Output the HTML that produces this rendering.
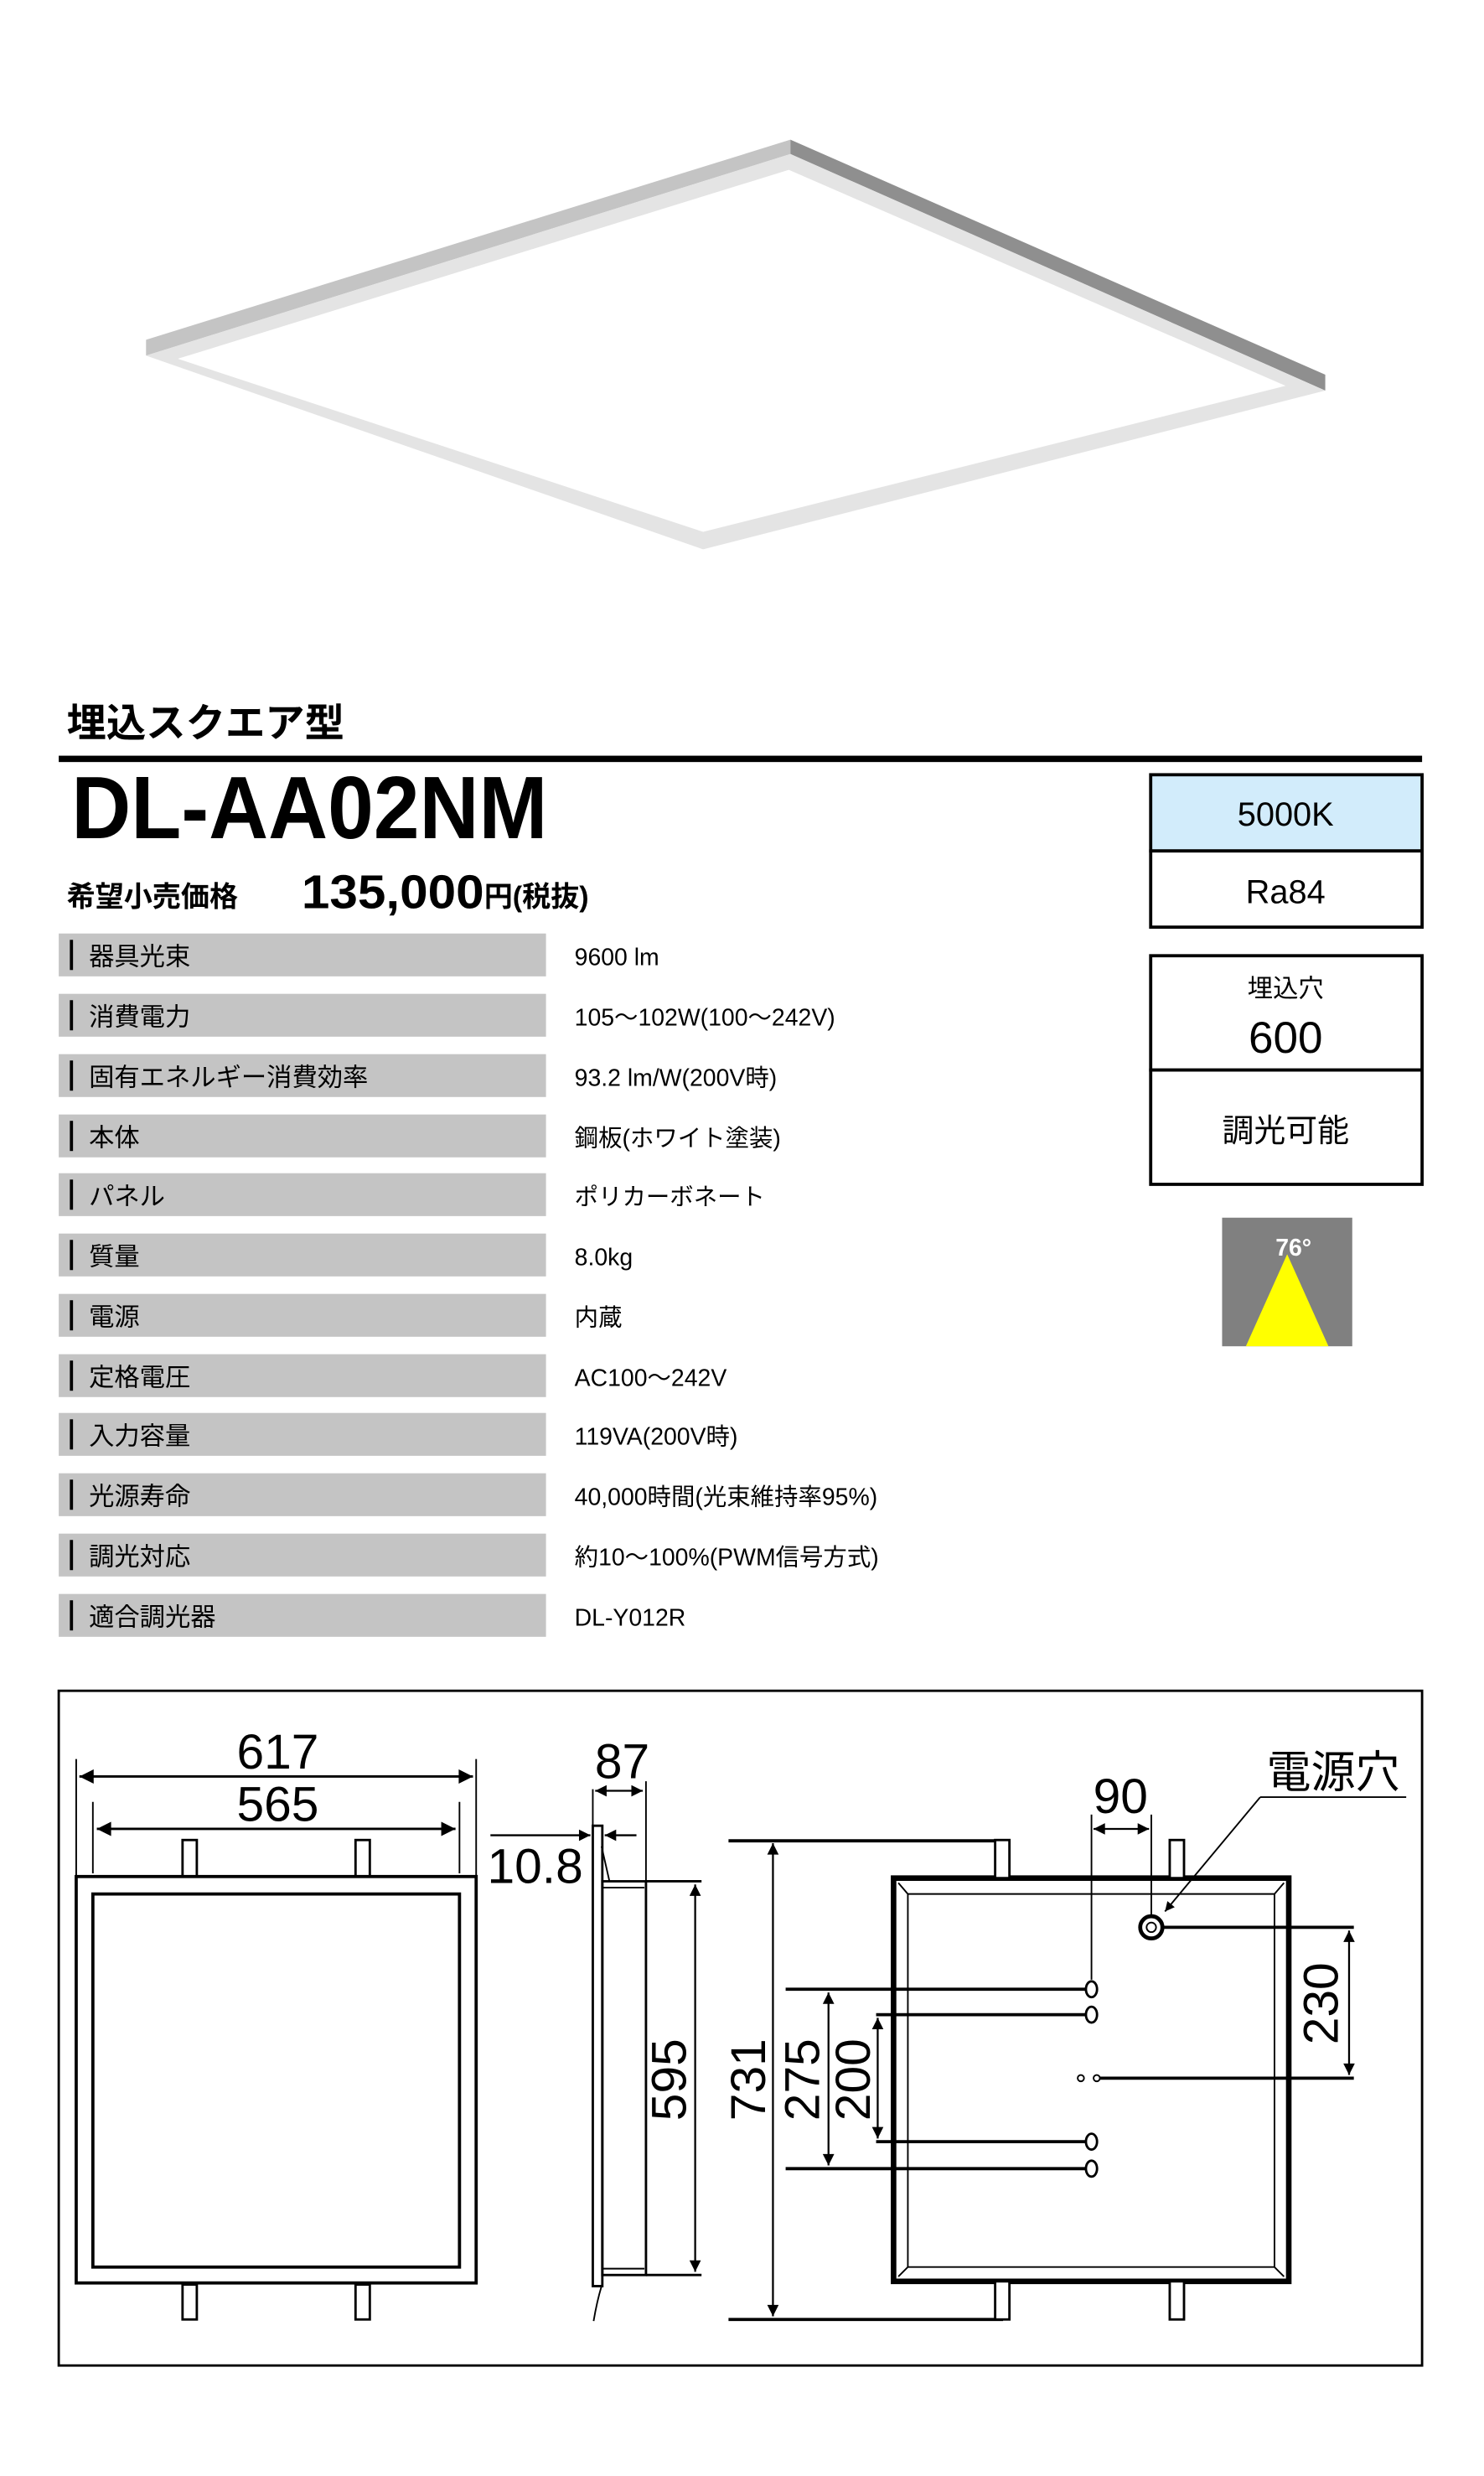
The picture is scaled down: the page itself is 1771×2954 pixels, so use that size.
<!DOCTYPE html>
<html><head><meta charset="utf-8"><style>
html,body{margin:0;padding:0;background:#fff}
svg{display:block}
text{font-family:"Liberation Sans","Noto Sans CJK JP",sans-serif}
</style></head><body>
<svg width="1771" height="2954" viewBox="0 0 935 1559.6" xmlns="http://www.w3.org/2000/svg">
<rect width="935" height="1560" fill="#fff"/>
<!-- lamp -->
<polygon points="92,214 498,88 498,97 92,224" fill="#c4c4c4"/>
<polygon points="498,88 835,236 835,246 498,97" fill="#8f8f8f"/>
<polygon points="92,224 498,97 835,246 443,346" fill="#e4e4e4"/>
<polygon points="112,226 497,107 810,243 443,335" fill="#fff"/>
<!-- title -->
<text x="42" y="464" font-size="25" font-weight="bold">埋込スクエア型</text>
<rect x="37" y="476" width="859" height="4" fill="#000"/>
<text x="45" y="528" font-size="56" font-weight="bold" textLength="300" lengthAdjust="spacingAndGlyphs">DL-AA02NM</text>
<text x="42" y="571" font-size="18" font-weight="bold">希望小売価格</text>
<text x="190" y="572" font-size="30" font-weight="bold" textLength="115" lengthAdjust="spacingAndGlyphs">135,000</text>
<text x="305" y="571" font-size="18" font-weight="bold">円(税抜)</text>
<!-- right boxes -->
<rect x="725" y="488" width="171" height="48" fill="#d2ecfb" stroke="#000" stroke-width="2"/>
<rect x="725" y="536" width="171" height="48" fill="#fff" stroke="#000" stroke-width="2"/>
<text x="810" y="520" font-size="21" text-anchor="middle">5000K</text>
<text x="810" y="569" font-size="21" text-anchor="middle">Ra84</text>
<rect x="725" y="602" width="171" height="72" fill="#fff" stroke="#000" stroke-width="2"/>
<rect x="725" y="674" width="171" height="72" fill="#fff" stroke="#000" stroke-width="2"/>
<text x="810" y="628" font-size="16" text-anchor="middle">埋込穴</text>
<text x="810" y="663" font-size="28" text-anchor="middle">600</text>
<text x="810" y="719" font-size="20" text-anchor="middle">調光可能</text>
<rect x="770" y="767" width="82" height="81" fill="#808080"/>
<polygon points="811,790 785,848 837,848" fill="#ffff00"/>
<text x="815" y="791" font-size="15" font-weight="bold" fill="#fff" text-anchor="middle">76°</text>
<!-- table -->
<g font-size="16">
<rect x="37" y="588" width="307" height="27" fill="#c4c4c4"/><rect x="44" y="592" width="2" height="19" fill="#000"/><text x="56" y="608">器具光束</text><text x="362" y="608" font-size="15">9600 lm</text>
<rect x="37" y="626" width="307" height="27" fill="#c4c4c4"/><rect x="44" y="630" width="2" height="19" fill="#000"/><text x="56" y="646">消費電力</text><text x="362" y="646" font-size="15">105～102W(100～242V)</text>
<rect x="37" y="664" width="307" height="27" fill="#c4c4c4"/><rect x="44" y="668" width="2" height="19" fill="#000"/><text x="56" y="684">固有エネルギー消費効率</text><text x="362" y="684" font-size="15">93.2 lm/W(200V時)</text>
<rect x="37" y="702" width="307" height="27" fill="#c4c4c4"/><rect x="44" y="706" width="2" height="19" fill="#000"/><text x="56" y="722">本体</text><text x="362" y="722" font-size="15">鋼板(ホワイト塗装)</text>
<rect x="37" y="739" width="307" height="27" fill="#c4c4c4"/><rect x="44" y="743" width="2" height="19" fill="#000"/><text x="56" y="759">パネル</text><text x="362" y="759" font-size="15">ポリカーボネート</text>
<rect x="37" y="777" width="307" height="27" fill="#c4c4c4"/><rect x="44" y="781" width="2" height="19" fill="#000"/><text x="56" y="797">質量</text><text x="362" y="797" font-size="15">8.0kg</text>
<rect x="37" y="815" width="307" height="27" fill="#c4c4c4"/><rect x="44" y="819" width="2" height="19" fill="#000"/><text x="56" y="835">電源</text><text x="362" y="835" font-size="15">内蔵</text>
<rect x="37" y="853" width="307" height="27" fill="#c4c4c4"/><rect x="44" y="857" width="2" height="19" fill="#000"/><text x="56" y="873">定格電圧</text><text x="362" y="873" font-size="15">AC100～242V</text>
<rect x="37" y="890" width="307" height="27" fill="#c4c4c4"/><rect x="44" y="894" width="2" height="19" fill="#000"/><text x="56" y="910">入力容量</text><text x="362" y="910" font-size="15">119VA(200V時)</text>
<rect x="37" y="928" width="307" height="27" fill="#c4c4c4"/><rect x="44" y="932" width="2" height="19" fill="#000"/><text x="56" y="948">光源寿命</text><text x="362" y="948" font-size="15">40,000時間(光束維持率95%)</text>
<rect x="37" y="966" width="307" height="27" fill="#c4c4c4"/><rect x="44" y="970" width="2" height="19" fill="#000"/><text x="56" y="986">調光対応</text><text x="362" y="986" font-size="15">約10～100%(PWM信号方式)</text>
<rect x="37" y="1004" width="307" height="27" fill="#c4c4c4"/><rect x="44" y="1008" width="2" height="19" fill="#000"/><text x="56" y="1024">適合調光器</text><text x="362" y="1024" font-size="15">DL-Y012R</text>
</g>
<!-- drawing box -->
<rect x="37" y="1065" width="859" height="425" fill="none" stroke="#000" stroke-width="1.5"/>
<defs><marker id="a" viewBox="0 0 10 10" refX="10" refY="5" markerWidth="8" markerHeight="6" orient="auto-start-reverse"><path d="M0,0 L10,5 L0,10 z" fill="#000"/></marker></defs>
<g stroke="#000" fill="none">
<!-- front view -->
<rect x="48" y="1182" width="252" height="256" stroke-width="2"/>
<rect x="58.5" y="1193" width="231" height="235" stroke-width="2"/>
<rect x="115" y="1159" width="9" height="23" stroke-width="1.5"/><rect x="224" y="1159" width="9" height="23" stroke-width="1.5"/>
<rect x="115" y="1439" width="9" height="22" stroke-width="1.5"/><rect x="224" y="1439" width="9" height="22" stroke-width="1.5"/>
<line x1="48" y1="1108" x2="48" y2="1182" stroke-width="1"/><line x1="300" y1="1108" x2="300" y2="1182" stroke-width="1"/>
<line x1="58.5" y1="1135" x2="58.5" y2="1180" stroke-width="1"/><line x1="289.5" y1="1135" x2="289.5" y2="1180" stroke-width="1"/>
<line x1="50" y1="1119" x2="298" y2="1119" stroke-width="1.5" marker-start="url(#a)" marker-end="url(#a)"/>
<line x1="61" y1="1152" x2="287" y2="1152" stroke-width="1.5" marker-start="url(#a)" marker-end="url(#a)"/>
<!-- side view -->
<rect x="373.5" y="1150" width="6" height="290" stroke-width="1.5"/>
<rect x="379.5" y="1185" width="27.5" height="248" stroke-width="1.5"/>
<line x1="380" y1="1189" x2="406" y2="1189" stroke-width="1"/><line x1="380" y1="1429" x2="406" y2="1429" stroke-width="1"/>
<line x1="373.5" y1="1127" x2="373.5" y2="1150" stroke-width="1"/><line x1="407" y1="1122" x2="407" y2="1185" stroke-width="1"/>
<line x1="375" y1="1128" x2="405" y2="1128" stroke-width="1.2" marker-start="url(#a)" marker-end="url(#a)"/>
<line x1="309" y1="1156" x2="372" y2="1156" stroke-width="1.2" marker-end="url(#a)"/>
<line x1="401" y1="1156" x2="381" y2="1156" stroke-width="1.2" marker-end="url(#a)"/>
<line x1="379" y1="1163" x2="384" y2="1185" stroke-width="1"/>
<path d="M379,1440 Q376,1450 374,1462" stroke-width="1"/>
<line x1="407" y1="1185" x2="442" y2="1185" stroke-width="1.5"/><line x1="407" y1="1433" x2="442" y2="1433" stroke-width="1.5"/>
<line x1="438" y1="1187" x2="438" y2="1431" stroke-width="1.2" marker-start="url(#a)" marker-end="url(#a)"/>
<!-- right view -->
<line x1="459" y1="1159.5" x2="632" y2="1159.5" stroke-width="2"/><line x1="459" y1="1461" x2="632" y2="1461" stroke-width="2"/>
<line x1="487" y1="1161" x2="487" y2="1459" stroke-width="1.2" marker-start="url(#a)" marker-end="url(#a)"/>
<rect x="563" y="1183" width="249" height="254" stroke-width="3.5"/>
<path d="M566,1186 L572,1193 L803,1193 L809,1186 M572,1193 L572,1428 M803,1193 L803,1428 M566,1434 L572,1428 L803,1428 L809,1434" stroke-width="1"/>
<rect x="627" y="1159" width="9" height="24" fill="#fff" stroke-width="1.5"/><rect x="737" y="1159" width="9" height="24" fill="#fff" stroke-width="1.5"/>
<rect x="627" y="1437" width="9" height="24" fill="#fff" stroke-width="1.5"/><rect x="737" y="1437" width="9" height="24" fill="#fff" stroke-width="1.5"/>
<line x1="687.7" y1="1143" x2="687.7" y2="1247" stroke-width="1"/><line x1="725.4" y1="1143" x2="725.4" y2="1206" stroke-width="1"/>
<line x1="689" y1="1152" x2="724" y2="1152" stroke-width="1.2" marker-start="url(#a)" marker-end="url(#a)"/>
<circle cx="725.4" cy="1214" r="7" stroke-width="2.5"/><circle cx="725.4" cy="1214" r="3" stroke-width="1"/>
<line x1="732" y1="1214" x2="853" y2="1214" stroke-width="2"/>
<line x1="850" y1="1216" x2="850" y2="1307" stroke-width="1.2" marker-start="url(#a)" marker-end="url(#a)"/>
<circle cx="681" cy="1309" r="2" stroke-width="1"/><circle cx="691" cy="1309" r="2" stroke-width="1"/>
<line x1="693" y1="1309" x2="853" y2="1309" stroke-width="2"/>
<ellipse cx="687.7" cy="1253" rx="3.5" ry="5" stroke-width="1.5"/><ellipse cx="687.7" cy="1269" rx="3.5" ry="5" stroke-width="1.5"/>
<ellipse cx="687.7" cy="1349" rx="3.5" ry="5" stroke-width="1.5"/><ellipse cx="687.7" cy="1366" rx="3.5" ry="5" stroke-width="1.5"/>
<line x1="495" y1="1253" x2="684" y2="1253" stroke-width="2"/><line x1="552" y1="1269" x2="684" y2="1269" stroke-width="2"/>
<line x1="552" y1="1349" x2="684" y2="1349" stroke-width="2"/><line x1="495" y1="1366" x2="684" y2="1366" stroke-width="2"/>
<line x1="522" y1="1255" x2="522" y2="1364" stroke-width="1.2" marker-start="url(#a)" marker-end="url(#a)"/>
<line x1="553" y1="1271" x2="553" y2="1347" stroke-width="1.2" marker-start="url(#a)" marker-end="url(#a)"/>
<line x1="794" y1="1132" x2="886" y2="1132" stroke-width="1"/>
<line x1="794" y1="1132" x2="734" y2="1204" stroke-width="1" marker-end="url(#a)"/>
</g>
<g font-size="31" fill="#000">
<text x="175" y="1114" text-anchor="middle">617</text>
<text x="175" y="1147" text-anchor="middle">565</text>
<text x="392" y="1120" text-anchor="middle">87</text>
<text x="307" y="1186">10.8</text>
<text x="706" y="1142" text-anchor="middle">90</text>
<text font-size="28" x="840" y="1126" text-anchor="middle">電源穴</text>
<text transform="translate(432,1310) rotate(-90)" text-anchor="middle">595</text>
<text transform="translate(482,1310) rotate(-90)" text-anchor="middle">731</text>
<text transform="translate(516,1310) rotate(-90)" text-anchor="middle">275</text>
<text transform="translate(548,1310) rotate(-90)" text-anchor="middle">200</text>
<text transform="translate(843,1262) rotate(-90)" text-anchor="middle">230</text>
</g>
</svg>
</body></html>
